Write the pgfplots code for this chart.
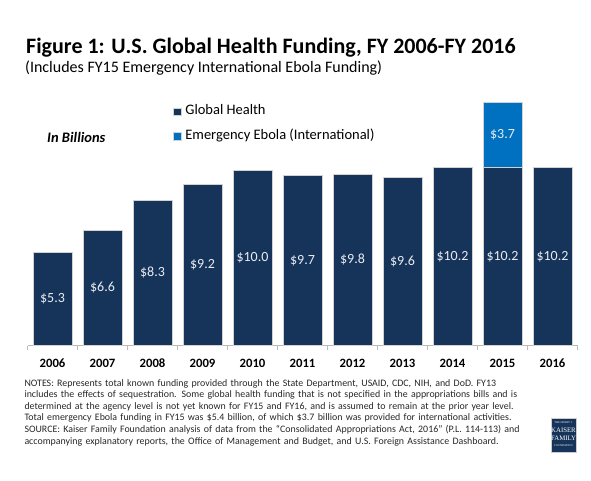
\documentclass[border=0pt]{standalone}
\usepackage{pgfplots}
\pgfplotsset{compat=1.18}
\usepackage{fontspec}
\setmainfont{Carlito}
\newfontfamily\logofont{Liberation Serif}
\definecolor{navy}{RGB}{22,52,90}
\definecolor{ebola}{RGB}{0,112,192}
\definecolor{lbl}{RGB}{232,236,242}
\begin{document}
\begin{tikzpicture}
\path[use as bounding box] (0,0) rectangle (591pt,480pt);
\node[anchor=base west, inner sep=0pt, font=\bfseries\fontsize{22}{22}\selectfont] at (26pt,426pt) {Figure 1: U.S. Global Health Funding, FY 2006-FY 2016};
\node[anchor=base west, inner sep=0pt, font=\fontsize{16}{16}\selectfont] at (25pt,407.5pt) {(Includes FY15 Emergency International Ebola Funding)};
\node[anchor=west, inner sep=0pt, font=\bfseries\itshape\fontsize{14.5}{14.5}\selectfont] at (47pt,342.3pt) {In Billions};
\begin{axis}[
  at={(27.5pt,134.5pt)}, anchor=south west,
  scale only axis, width=550pt, height=262.5pt,
  xmin=-0.5, xmax=10.5, ymin=0, ymax=15,
  axis y line=none, axis x line*=bottom,
  x axis line style={-, draw=gray!55, line width=0.6pt},
  xtick={0,...,10},
  xticklabels={2006,2007,2008,2009,2010,2011,2012,2013,2014,2015,2016},
  major tick length=0pt,
  minor xtick={-0.5,0.5,...,10.5},
  minor tick length=4pt, tick align=outside,
  minor tick style={draw=gray!55, line width=0.6pt},
  xticklabel style={inner sep=0pt, yshift=-13pt, font=\bfseries\fontsize{12.7}{12.7}\selectfont},
  ybar stacked, bar width=39pt,
  legend style={at={(0.265,0.844)}, anchor=west, draw=none, fill=none, inner sep=0pt,
    font=\fontsize{14.5}{14.5}\selectfont, row sep=12pt,
    nodes={inner sep=0pt, text height=9.5pt, text depth=3pt},
    /tikz/every odd column/.append style={column sep=3.5pt}},
  legend cell align=left,
  legend image code/.code={\fill[#1] (0pt,-3.8pt) rectangle (7.8pt,3.9pt);},
  visualization depends on=rawy \as \rawy,
  point meta=rawy,
  nodes near coords={\ifdim\rawy pt>0pt\$\pgfmathprintnumber[fixed,fixed zerofill,precision=1,assume math mode=true]{\rawy}\fi},
  every node near coord/.append style={anchor=center, text=lbl, inner sep=0pt, font=\fontsize{14}{14}\selectfont},
]
\addplot[fill=navy, draw=gray!35, line width=0.6pt] coordinates {
 (0,5.3) (1,6.6) (2,8.3) (3,9.2) (4,10.0) (5,9.7) (6,9.8) (7,9.6) (8,10.2) (9,10.2) (10,10.2)};
\addlegendentry{Global Health}
\addplot[fill=ebola, draw=gray!35, line width=0.6pt] coordinates {
 (0,0) (1,0) (2,0) (3,0) (4,0) (5,0) (6,0) (7,0) (8,0) (9,3.7) (10,0)};
\addlegendentry{Emergency Ebola (International)}
\end{axis}
\node[anchor=north west, inner sep=0pt, text width=530pt, align=left, font=\fontsize{9.9}{11.6}\selectfont, text=black!85] at (24.3pt,101pt) {NOTES: Represents total known funding provided through the State Department, USAID, CDC, NIH, and DoD. FY13\\
includes the effects of sequestration. Some global health funding that is not specified in the appropriations bills and is\\
determined at the agency level is not yet known for FY15 and FY16, and is assumed to remain at the prior year level.\\
Total emergency Ebola funding in FY15 was \$5.4 billion, of which \$3.7 billion was provided for international activities.\\
SOURCE: Kaiser Family Foundation analysis of data from the ``Consolidated Appropriations Act, 2016'' (P.L. 114-113) and\\
accompanying explanatory reports, the Office of Management and Budget, and U.S. Foreign Assistance Dashboard.};
\fill[navy] (551pt,28pt) rectangle (576pt,62pt);
\draw[gray!40, line width=0.4pt] (551pt,28pt) rectangle (576pt,62pt);
\node[text=white, font=\logofont\fontsize{2.8}{3}\selectfont, inner sep=0pt] at (563.5pt,57.5pt) {THE HENRY J.};
\node[text=white, font=\logofont\fontsize{6.8}{6.8}\selectfont, inner sep=0pt] at (563.5pt,50pt) {KAISER};
\node[text=white, font=\logofont\fontsize{6.8}{6.8}\selectfont, inner sep=0pt] at (563.5pt,42pt) {FAMILY};
\node[text=white, font=\logofont\fontsize{2.8}{3}\selectfont, inner sep=0pt] at (563.5pt,34.5pt) {FOUNDATION};
\end{tikzpicture}
\end{document}
